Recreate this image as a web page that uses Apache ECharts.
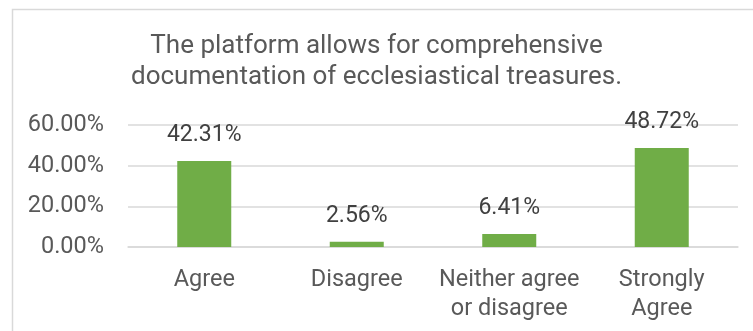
<!DOCTYPE html>
<html>
<head>
<meta charset="utf-8">
<script src="https://cdn.jsdelivr.net/npm/echarts@6/dist/echarts.min.js"></script>
<style>
  html, body { margin: 0; padding: 0; background: #fff; }
  #chart { width: 753px; height: 331px; }
</style>
</head>
<body>
<div id="chart"></div>
<script>
// Survey responses (share of respondents, %)
const categories = ['Agree', 'Disagree', 'Neither agree\nor disagree', 'Strongly\nAgree'];
const shares = [42.31, 2.56, 6.41, 48.72];
const yTicks = { min: 0, max: 60, interval: 20 };
const titleText = 'The platform allows for comprehensive\ndocumentation of ecclesiastical treasures.';

const FONT = 'Roboto';
const chart = echarts.init(document.getElementById('chart'), null, { renderer: 'canvas' });

chart.setOption({
  backgroundColor: '#ffffff',
  animation: false,
  graphic: [{
    type: 'rect',
    left: 10, top: 7,
    shape: { width: 800, height: 400 },
    style: { fill: 'none', stroke: '#d9d9d9', lineWidth: 1.5 },
    silent: true
  }],
  title: {
    text: titleText,
    left: 'center',
    top: 31,
    padding: [0, 0, 0, 30],
    textStyle: {
      fontFamily: FONT,
      fontSize: 26,
      fontWeight: 'normal',
      color: '#595959',
      lineHeight: 31
    }
  },
  grid: { left: 128, right: 15, top: 125, bottom: 84 },
  xAxis: {
    type: 'category',
    data: categories,
    axisLine: { show: true, lineStyle: { color: '#d9d9d9', width: 1.5 } },
    axisTick: { show: false },
    axisLabel: {
      fontFamily: FONT,
      fontSize: 23.5,
      color: '#595959',
      lineHeight: 29,
      margin: 19,
      interval: 0
    }
  },
  yAxis: {
    type: 'value',
    min: yTicks.min,
    max: yTicks.max,
    interval: yTicks.interval,
    axisLine: { show: false },
    axisTick: { show: false },
    splitLine: { lineStyle: { color: '#d9d9d9', width: 1.5 } },
    axisLabel: {
      fontFamily: FONT,
      fontSize: 23.5,
      color: '#595959',
      margin: 24,
      formatter: v => v.toFixed(2) + '%'
    }
  },
  series: [{
    type: 'bar',
    data: shares,
    barWidth: 54,
    itemStyle: { color: '#70ad47' },
    label: {
      show: true,
      position: 'top',
      distance: 14,
      fontFamily: FONT,
      fontSize: 23,
      color: '#404040',
      formatter: p => p.value.toFixed(2) + '%'
    }
  }]
});
</script>
</body>
</html>
